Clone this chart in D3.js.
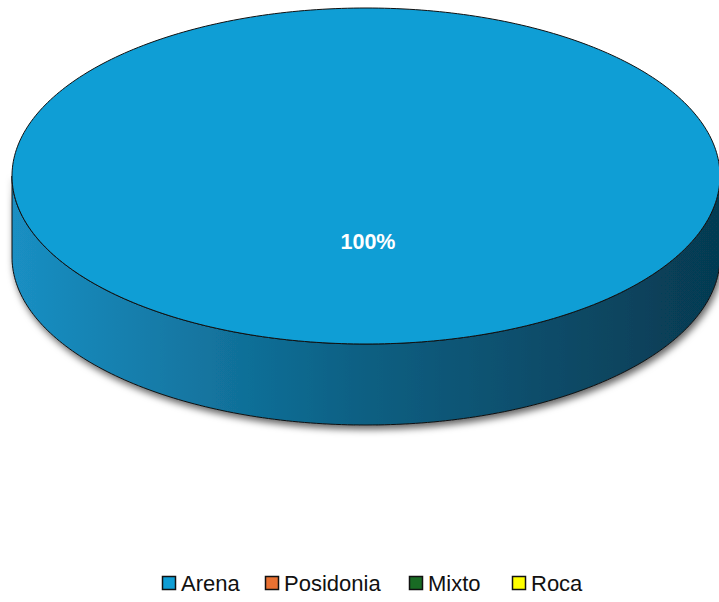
<!DOCTYPE html>
<html>
<head>
<meta charset="utf-8">
<script src="https://cdn.jsdelivr.net/npm/d3@7"></script>
<style>
  html, body { margin: 0; padding: 0; background: #ffffff; }
  svg { display: block; }
</style>
</head>
<body>
<svg id="chart" width="719" height="602"></svg>
<script>
// Seabed type distribution
const categories = ["Arena", "Posidonia", "Mixto", "Roca"];
const values = [100, 0, 0, 0];
const colors = ["#0F9ED5", "#E97132", "#196B24", "#FFFF00"];
const sideDark = ["#063a51", "#6b3417", "#0b3110", "#777700"];
const sideMid = ["#0c5f82", "#a1521f", "#124d19", "#b5b500"];
const sideLight = ["#1a8fc3", "#d4672c", "#176220", "#e6e600"];

const W = 719, H = 602;
const cx = 366, cy = 176, rx = 354, ry = 168, depth = 81;

const svg = d3.select("#chart");
const defs = svg.append("defs");

const shadow = defs.append("filter").attr("id", "wallShadow")
  .attr("x", "-5%").attr("y", "-5%").attr("width", "110%").attr("height", "130%");
shadow.append("feDropShadow")
  .attr("dx", 2).attr("dy", 4).attr("stdDeviation", 3.5)
  .attr("flood-color", "#000").attr("flood-opacity", 0.6);

categories.forEach((c, i) => {
  const g = defs.append("linearGradient").attr("id", "side" + i)
    .attr("gradientUnits", "userSpaceOnUse")
    .attr("x1", cx - rx).attr("x2", cx + rx).attr("y1", 0).attr("y2", 0);
  g.append("stop").attr("offset", "0%").attr("stop-color", sideLight[i]);
  g.append("stop").attr("offset", "50%").attr("stop-color", sideMid[i]);
  g.append("stop").attr("offset", "100%").attr("stop-color", sideDark[i]);
});

const data = categories.map((c, i) => ({ name: c, value: values[i], idx: i }));
const pie = d3.pie().value(d => d.value).sort(null);
const arcs = pie(data).filter(a => a.endAngle - a.startAngle > 1e-9);

// angle measured clockwise from 12 o'clock
const px = a => cx + rx * Math.sin(a);
const py = (a, dy = 0) => cy - ry * Math.cos(a) + dy;

function ellArc(a0, a1, dy) {
  const pts = [];
  const n = Math.max(2, Math.ceil(Math.abs(a1 - a0) / (Math.PI * 2) * 360));
  for (let k = 0; k <= n; k++) {
    const a = a0 + (a1 - a0) * k / n;
    pts.push([px(a), py(a, dy)]);
  }
  return pts;
}

const line = d3.line();

// outer walls (front half only is visible)
const wallG = svg.append("g").attr("filter", "url(#wallShadow)");
arcs.forEach(a => {
  const s = Math.max(a.startAngle, Math.PI / 2);
  const e = Math.min(a.endAngle, Math.PI * 1.5);
  if (e <= s) return;
  const top = ellArc(s, e, 0);
  const bottom = ellArc(e, s, depth);
  wallG.append("path")
    .attr("d", line(top.concat(bottom)) + "Z")
    .attr("fill", `url(#side${a.data.idx})`)
    .attr("stroke", "#111")
    .attr("stroke-width", 1);
});

// top faces
arcs.forEach(a => {
  const full = a.endAngle - a.startAngle >= Math.PI * 2 - 1e-9;
  const d = full
    ? line(ellArc(0, Math.PI * 2, 0)) + "Z"
    : line([[cx, cy]].concat(ellArc(a.startAngle, a.endAngle, 0))) + "Z";
  svg.append("path")
    .attr("d", d)
    .attr("fill", colors[a.data.idx])
    .attr("stroke", "#111")
    .attr("stroke-width", 1);
});

// data labels
const total = d3.sum(values);
arcs.forEach(a => {
  const full = a.endAngle - a.startAngle >= Math.PI * 2 - 1e-9;
  const mid = (a.startAngle + a.endAngle) / 2;
  const lx = full ? cx + 2 : cx + rx * 0.6 * Math.sin(mid);
  const ly = full ? cy + 66 : cy - ry * 0.6 * Math.cos(mid);
  svg.append("text")
    .attr("x", lx).attr("y", ly)
    .attr("text-anchor", "middle")
    .attr("dominant-baseline", "central")
    .attr("font-family", "Liberation Sans, Arial, sans-serif")
    .attr("font-weight", "bold")
    .attr("font-size", 21.5)
    .attr("fill", "#ffffff")
    .text(d3.format(".0%")(a.data.value / total));
});

// legend
const legendX = [162, 265, 409, 512];
const legend = svg.append("g").attr("transform", "translate(0,583)");
categories.forEach((c, i) => {
  const g = legend.append("g").attr("transform", `translate(${legendX[i]},0)`);
  g.append("rect")
    .attr("x", 0.5).attr("y", -6.5).attr("width", 13).attr("height", 13)
    .attr("fill", colors[i]).attr("stroke", "#111").attr("stroke-width", 1.5);
  g.append("text")
    .attr("x", 19).attr("y", 0)
    .attr("dominant-baseline", "central")
    .attr("font-family", "Liberation Sans, Arial, sans-serif")
    .attr("font-size", 22)
    .attr("fill", "#111")
    .text(c);
});
</script>
</body>
</html>
